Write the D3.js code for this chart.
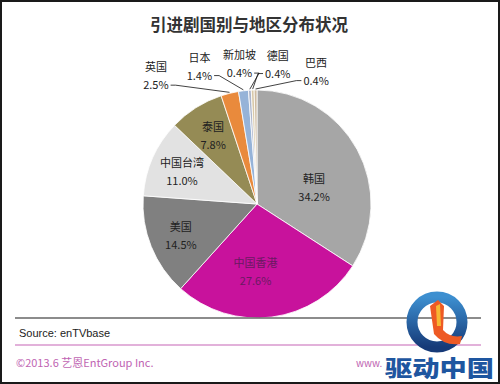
<!DOCTYPE html>
<html><head><meta charset="utf-8">
<script src="https://cdn.jsdelivr.net/npm/d3@7"></script>
<style>body{margin:0;background:#fff}svg{display:block}</style>
</head><body>
<svg id="c" width="500" height="384"></svg>
<script>
const categories = ["韩国","中国香港","美国","中国台湾","泰国","英国","日本","新加坡","德国","巴西"];
const values = [34.2,27.6,14.5,11.0,7.8,2.5,1.4,0.4,0.4,0.4];
const valueLabels = ["34.2%","27.6%","14.5%","11.0%","7.8%","2.5%","1.4%","0.4%","0.4%","0.4%"];
const colors = ["#a6a6a6","#c8129c","#808080","#e2e2e2","#958b55","#e98a3c","#96b3d8","#aeb6cc","#d8c8a8","#cdbba2"];
const titleText = "引进剧国别与地区分布状况";
const sourceText = "Source: enTVbase";
const copyrightText = "©2013.6  艺恩EntGroup Inc.";

const W=500,H=384, cx=257, cy=204, R=114;
const svg=d3.select("#c");
const font="'Noto Sans CJK SC','Noto Sans',sans-serif";

svg.append("rect").attr("width",W).attr("height",H).attr("fill","#fff");
svg.append("rect").attr("x",1).attr("y",1).attr("width",W-2).attr("height",H-2)
  .attr("fill","none").attr("stroke","#1a1a1a").attr("stroke-width",2);

svg.append("text").attr("x",249).attr("y",31).attr("text-anchor","middle")
  .attr("font-family",font).attr("font-weight","bold").attr("font-size",16.5)
  .attr("fill","#333").text(titleText);

const data = categories.map((c,i)=>({name:c,value:values[i],label:valueLabels[i],color:colors[i]}));
const pie=d3.pie().sort(null).value(d=>d.value);
const arcs=pie(data);
const arc=d3.arc().innerRadius(0).outerRadius(R);
const g=svg.append("g").attr("transform",`translate(${cx},${cy})`);
g.selectAll("path").data(arcs).join("path").attr("d",arc)
  .attr("fill",d=>d.data.color).attr("stroke","#fff").attr("stroke-width",0.8);

// inside labels
const inside=arcs.filter(a=>a.data.value>=5);
inside.forEach(a=>{
  const mid=(a.startAngle+a.endAngle)/2;
  const rr = a.data.value>25 ? R*0.57 : R*0.72;
  let x=rr*Math.sin(mid), y=-rr*Math.cos(mid);
  if(a.index===0){ y+=14; }
  if(a.index===1){ x-=10; y+=3; }
  const col = a.index===1 ? "#6a1a62" : "#222";
  g.append("text").attr("x",x).attr("y",y-4).attr("text-anchor","middle")
    .attr("font-family",font).attr("font-size",11).attr("fill",col).text(a.data.name);
  g.append("text").attr("x",x).attr("y",y+14).attr("text-anchor","middle")
    .attr("font-family",font).attr("font-size",11).attr("fill",col).text(a.data.label);
});

// outside labels for small slices, spread around their mean angle
const outside=arcs.filter(a=>a.data.value<5);
const mids=outside.map(a=>{let m=(a.startAngle+a.endAngle)/2; if(m>Math.PI) m-=2*Math.PI; return m;});
const meanMid=d3.mean(mids);
const spread=15.6*Math.PI/180;
const n=outside.length;
outside.forEach((a,i)=>{
  const ang=meanMid-0.03+(i-(n-1)/2)*spread;
  const lr= 141 + (i===0?22:0) + (i===1?8:0) + (i===4?4:0);
  const lx=lr*Math.sin(ang), ly=-lr*Math.cos(ang);
  const t1=g.append("text").attr("x",lx).attr("y",ly-5).attr("text-anchor","middle")
    .attr("font-family",font).attr("font-size",11).attr("fill","#222").text(a.data.name);
  const t2=g.append("text").attr("x",lx).attr("y",ly+13).attr("text-anchor","middle")
    .attr("font-family",font).attr("font-size",11).attr("fill","#222").text(a.data.label);
  const w=t2.node().getComputedTextLength();
  const m=mids[i];
  const ex=(R+1)*Math.sin(m), ey=-(R+1)*Math.cos(m);
  let pts;
  if(Math.abs(ang)<0.12){
    pts=[[lx+6,ly+17],[lx+6,ey]];
  } else if(ang<0){
    const sx=lx+w/2+2, sy=ly+9;
    pts=[[sx,sy],[sx+5,sy],[ex,ey]];
  } else {
    const sx=lx-w/2-2, sy=ly+9;
    pts=[[sx,sy],[sx-5,sy],[ex,ey]];
  }
  g.append("path").attr("d",d3.line()(pts)).attr("fill","none").attr("stroke","#111").attr("stroke-width",0.8);
});

// footer
svg.append("line").attr("x1",15).attr("x2",481).attr("y1",318).attr("y2",318).attr("stroke","#666").attr("stroke-width",1.5);
svg.append("text").attr("x",19).attr("y",337).attr("font-family","'Liberation Sans',Arial,sans-serif").attr("font-size",11).attr("fill","#222").text(sourceText);
svg.append("line").attr("x1",15).attr("x2",481).attr("y1",345).attr("y2",345).attr("stroke","#c565b6").attr("stroke-width",1.2);
svg.append("text").attr("x",16).attr("y",367).attr("font-family",font).attr("font-size",11).attr("fill","#c064b2").text(copyrightText);
svg.append("text").attr("x",356).attr("y",367).attr("font-family",font).attr("font-size",10).attr("fill","#c064b2").text("www.");

// watermark logo
const lg=svg.append("g");
const grad=svg.append("defs").append("linearGradient").attr("id","rg").attr("x1","0").attr("y1","0").attr("x2","0").attr("y2","1");
grad.append("stop").attr("offset","0").attr("stop-color","#3d8fd0");
grad.append("stop").attr("offset","1").attr("stop-color","#163a78");
lg.append("circle").attr("cx",437).attr("cy",322).attr("r",25).attr("fill","none").attr("stroke","url(#rg)").attr("stroke-width",11);
lg.append("path").attr("d","M430,306 L438,300 L444,306 L443,330 Q450,338 462,336 L460,344 Q444,346 434,334 Z").attr("fill","#ee5a24");
lg.append("path").attr("d","M436,306 L440,304 L441,326 L437,326 Z").attr("fill","#f7b733");
lg.append("text").attr("x",385).attr("y",376).attr("font-family",font).attr("font-weight","900").attr("font-size",22)
  .attr("textLength",109).attr("lengthAdjust","spacingAndGlyphs").attr("fill","#1e56a0").text("驱动中国");
</script>
</body></html>
